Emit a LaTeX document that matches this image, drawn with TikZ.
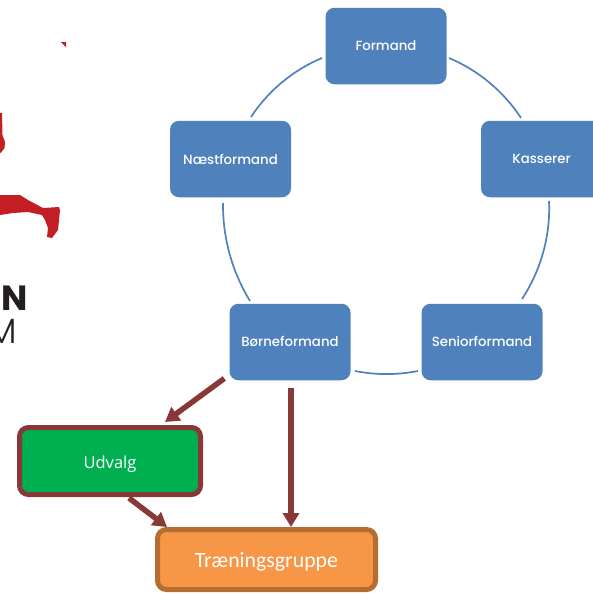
\documentclass[tikz,border=0pt]{standalone}
\usepackage{fontspec}
\setmainfont{Open Sans}
\newfontfamily\labelfont{Poppins Medium}
\newfontfamily\calfont{Carlito}
\newfontfamily\logofont{Poppins}
\newfontfamily\logolight{Poppins Light}
\usetikzlibrary{arrows.meta}
\definecolor{blueb}{HTML}{4F81BD}
\definecolor{brownr}{HTML}{883937}
\definecolor{greenb}{HTML}{00B050}
\definecolor{orangeb}{HTML}{F79646}
\definecolor{oranged}{HTML}{B66D31}
\definecolor{logored}{HTML}{C41E25}
\definecolor{logodark}{HTML}{231F20}
\tikzset{
  rolebox/.style={fill=blueb,rounded corners=9pt,minimum width=121pt,minimum height=76.5pt,inner sep=0pt,text=white,font=\labelfont\fontsize{13.3}{15}\selectfont},
  ring/.style={draw=blueb,line width=1.7pt,looseness=0.87},
  flow/.style={draw=brownr,line width=5.5pt,-{Triangle[length=14pt,width=16pt]}},
  logopart/.style={fill=logored,draw=none}
}
\begin{document}
\begin{tikzpicture}[x=1pt,y=-1pt]
\useasboundingbox (0,0) rectangle (593,592);
% logo fragments
\fill[logopart] (60.7,42) -- (66,42) -- (66,47) -- cycle;
\fill[logopart] (0,113) -- (2,113) -- (2.5,135) -- (5,142) -- (4.5,148) -- (1,152.5) -- (0,153) -- cycle;
\fill[logopart] (0,195) -- (20,195) -- (28,200) -- (43,208) -- (59,207) -- (60,210) -- (58,230) -- (52,238) -- (47,237) -- (48,228) -- (45,220) -- (42,215) -- (28,212) -- (13,213) -- (0,215) -- cycle;
\node[anchor=base east,inner sep=0pt,text=logodark,font=\logofont\bfseries\fontsize{35}{35}\selectfont] (logon) at (28,310) {N};
\node[anchor=base east,inner sep=0pt,text=logodark,font=\logolight\fontsize{35}{35}\selectfont] (logom) at (17,343) {M};
% role boxes
\node[rolebox] (formand) at (386,46) {Formand};
\node[rolebox] (naest) at (230.5,159) {Næstformand};
\node[rolebox] (kasserer) at (541.5,159) {Kasserer};
\node[rolebox] (boerne) at (290,342) {\raisebox{0.7pt}{Børneformand}};
\node[rolebox] (senior) at (482,342) {\raisebox{0.7pt}{Seniorformand}};
% ring ends
\coordinate (fk) at (449,58);
\coordinate (kf) at (521,118);
\coordinate (ks) at (549,201);
\coordinate (sk) at (522,299);
\coordinate (sb) at (418,371);
\coordinate (bs) at (355,371);
\coordinate (bn) at (250,301);
\coordinate (nb) at (223,203);
\coordinate (nf) at (251,117);
\coordinate (fn) at (322,58);
\draw[ring] (fk) to[bend left=17] (kf);
\draw[ring] (ks) to[bend left=18] (sk);
\draw[ring] (sb) to[bend left=11] (bs);
\draw[ring] (bn) to[bend left=16] (nb);
\draw[ring] (nf) to[bend left=17] (fn);
% lower boxes
\node[draw=brownr,fill=greenb,line width=5pt,rounded corners=9pt,minimum width=181pt,minimum height=67pt,inner sep=0pt,text=white,font=\fontsize{16.5}{18}\selectfont] (udvalg) at (110,461) {\raisebox{-7pt}[0pt][0pt]{Udvalg}};
\node[draw=oranged,fill=orangeb,line width=5pt,rounded corners=9pt,minimum width=218pt,minimum height=60pt,inner sep=0pt,text=white,font=\calfont\fontsize{21.8}{24}\selectfont] (traen) at (266.5,559.5) {\raisebox{-7.5pt}[0pt][0pt]{Træningsgruppe}};
% arrows
\draw[flow] ([shift={(-5,-2)}]boerne.south west) -- ([shift={(55,-3)}]udvalg.north);
\draw[flow,shorten <=8pt] ([xshift=1pt]boerne.south) -- ([xshift=1pt]boerne.south |- traen.north);
\draw[flow] ([shift={(19,1)}]udvalg.south) -- ([xshift=12pt]traen.north west);
\end{tikzpicture}
\end{document}
